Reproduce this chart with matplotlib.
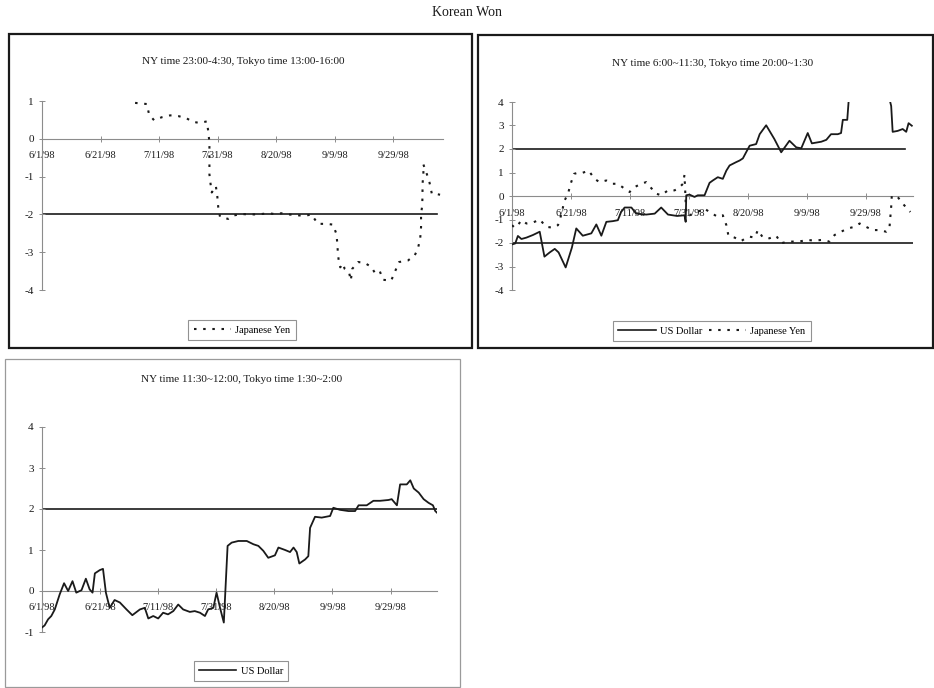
import matplotlib
matplotlib.use("Agg")
import matplotlib.pyplot as plt
from matplotlib.lines import Line2D
from matplotlib.patches import Rectangle

plt.rcParams['font.family'] = ['Liberation Serif', 'DejaVu Serif']
plt.rcParams['axes.unicode_minus'] = False

W, H = 934, 688

# x values are days counted from 6/1/98
date_ticks = [0, 20, 40, 60, 80, 100, 120]
date_labels = ['6/1/98', '6/21/98', '7/11/98', '7/31/98', '8/20/98', '9/9/98', '9/29/98']

# panel 1: NY 23:00-4:30 -- Japanese Yen
yen1_day = [31.8, 35.8, 36.6, 38.3, 40.9, 43.8, 46.6, 49.2, 51.5, 53.8, 56.3, 56.8, 57.2, 57.2,
            57.6, 58.0, 59.4, 59.9, 60.2, 60.8, 63.6, 65.3, 68.2, 70.5, 72.7, 75.0, 77.3, 79.5,
            81.8, 84.1, 86.9, 89.8, 92.0, 94.3, 97.2, 99.4, 100.6, 100.9, 101.1, 101.5, 101.9,
            102.8, 103.4, 104.9, 105.5, 106.0, 108.0, 110.2, 112.5, 113.6, 115.3, 116.5, 119.3,
            120.5, 122.0, 125.0, 127.3, 128.4, 129.2, 129.5, 129.5, 129.9, 130.0, 130.0, 130.3,
            130.3, 131.3, 132.4, 133.2, 134.7, 136.0]
yen1_val = [0.95, 0.92, 0.64, 0.49, 0.57, 0.62, 0.60, 0.55, 0.45, 0.42, 0.46, 0.20, -0.10, -0.94,
            -1.20, -1.42, -1.25, -1.53, -1.80, -2.06, -2.12, -2.03, -1.99, -2.00, -2.00, -1.99,
            -1.97, -1.99, -1.97, -2.00, -2.02, -2.04, -2.00, -2.25, -2.25, -2.27, -2.52, -2.78,
            -3.04, -3.30, -3.40, -3.30, -3.44, -3.53, -3.75, -3.44, -3.26, -3.28, -3.39, -3.53,
            -3.48, -3.73, -3.75, -3.53, -3.26, -3.22, -3.09, -2.91, -2.65, -2.34, -1.99, -1.77,
            -1.46, -1.20, -0.94, -0.68, -0.89, -1.16, -1.46, -1.46, -1.48]

# panel 2: NY 6:00~11:30 -- US Dollar and Japanese Yen
usd2_day = [0.0, 1.1, 2.0, 3.2, 4.9, 7.1, 9.4, 11.0, 12.8, 14.5, 15.8, 18.2, 20.3, 21.8, 24.0,
            26.9, 28.6, 30.3, 32.0, 34.2, 35.9, 37.0, 38.2, 40.5, 42.1, 45.5, 48.4, 50.6, 52.9,
            56.0, 58.5, 58.9, 59.1, 60.2, 61.9, 63.0, 65.3, 67.0, 68.1, 69.8, 71.5, 72.7, 73.8,
            76.0, 77.2, 78.3, 79.4, 80.6, 82.8, 84.0, 86.2, 89.0, 91.3, 94.1, 96.4, 98.1, 100.3,
            101.7, 104.9, 106.6, 108.2, 110.5, 111.6, 112.2, 113.7, 114.5, 120.0, 127.5, 128.6,
            129.1, 130.8, 132.5, 133.7, 134.5, 135.6]
usd2_val = [-2.06, -2.02, -1.70, -1.83, -1.77, -1.66, -1.52, -2.58, -2.40, -2.25, -2.40, -3.04,
            -2.20, -1.38, -1.69, -1.59, -1.21, -1.69, -1.10, -1.07, -1.03, -0.68, -0.49, -0.49,
            -0.75, -0.79, -0.75, -0.49, -0.79, -0.85, -0.82, -1.10, 0.03, 0.06, -0.04, 0.03,
            0.03, 0.56, 0.66, 0.80, 0.73, 1.08, 1.30, 1.44, 1.51, 1.60, 1.86, 2.14, 2.21, 2.63,
            3.01, 2.42, 1.86, 2.35, 2.07, 2.03, 2.68, 2.24, 2.31, 2.39, 2.63, 2.63, 2.68, 3.24,
            3.24, 4.60, 5.00, 4.40, 3.83, 2.73, 2.77, 2.85, 2.73, 3.10, 2.99]
yen2_day = [0.0, 0.9, 2.0, 3.2, 4.9, 7.1, 9.4, 11.6, 13.9, 15.6, 17.0, 17.6, 19.0, 19.9, 21.0,
            22.9, 24.0, 26.0, 28.0, 29.7, 32.0, 34.2, 35.9, 38.2, 39.9, 41.6, 43.8, 45.5, 47.2,
            48.9, 50.6, 52.9, 55.1, 56.3, 58.0, 58.5, 59.1, 60.2, 65.3, 67.0, 69.8, 71.5, 72.7,
            73.4, 75.5, 77.7, 78.8, 80.6, 82.3, 83.4, 85.1, 87.3, 89.6, 91.3, 93.6, 95.8, 98.1,
            100.3, 102.6, 104.9, 107.7, 109.4, 111.6, 113.9, 116.2, 117.9, 120.7, 122.4, 124.7,
            126.9, 128.0, 128.6, 128.8, 129.7, 130.8, 132.5, 134.2, 135.1]
yen2_val = [-1.24, -1.35, -1.24, -1.03, -1.17, -1.13, -1.00, -1.31, -1.35, -1.24, -0.68, -0.25,
            0.10, 0.52, 0.94, 1.01, 0.99, 1.08, 0.73, 0.59, 0.66, 0.52, 0.52, 0.31, 0.17, 0.38,
            0.52, 0.59, 0.34, 0.10, 0.03, 0.24, 0.24, 0.31, 0.52, 0.90, -0.80, -0.82, -0.54,
            -0.68, -0.89, -0.82, -1.24, -1.69, -1.77, -1.92, -1.83, -1.73, -1.77, -1.45, -1.77,
            -1.80, -1.69, -2.01, -1.94, -1.94, -1.92, -1.87, -1.90, -1.87, -1.94, -1.66, -1.52,
            -1.38, -1.31, -1.17, -1.35, -1.45, -1.45, -1.52, -1.38, -0.46, 0.00, 0.00, -0.04,
            -0.32, -0.56, -0.68]

# panel 3: NY 11:30~12:00 -- US Dollar
usd3_day = [0.0, 0.9, 2.1, 3.2, 4.4, 6.1, 7.6, 9.0, 10.5, 11.8, 13.6, 15.1, 16.4, 17.4, 18.2,
            19.9, 21.0, 22.0, 23.3, 25.0, 26.8, 29.1, 31.1, 33.7, 35.4, 36.6, 38.3, 40.0, 41.7,
            43.4, 45.2, 46.9, 48.6, 50.9, 52.6, 54.4, 56.1, 57.2, 59.0, 60.1, 61.3, 62.6, 63.9,
            65.3, 67.6, 70.5, 72.8, 74.5, 76.2, 77.9, 80.2, 81.4, 83.7, 85.4, 86.6, 87.7, 88.6,
            90.6, 91.7, 92.3, 94.0, 96.3, 99.2, 100.3, 102.6, 105.5, 107.8, 109.0, 111.8, 114.1,
            116.4, 119.3, 120.4, 122.2, 123.3, 125.6, 126.8, 128.0, 129.7, 131.4, 133.1, 134.6,
            135.4, 136.0]
usd3_val = [-0.89, -0.84, -0.69, -0.61, -0.45, -0.08, 0.19, 0.00, 0.24, -0.04, 0.02, 0.30, 0.04,
            -0.04, 0.43, 0.51, 0.54, -0.04, -0.41, -0.22, -0.28, -0.45, -0.59, -0.45, -0.41,
            -0.67, -0.61, -0.67, -0.53, -0.57, -0.49, -0.33, -0.45, -0.51, -0.49, -0.53, -0.61,
            -0.45, -0.41, -0.04, -0.41, -0.77, 1.10, 1.18, 1.22, 1.22, 1.14, 1.10, 0.98, 0.81,
            0.87, 1.06, 1.00, 0.95, 1.06, 0.95, 0.67, 0.77, 0.85, 1.54, 1.81, 1.79, 1.83, 2.03,
            1.98, 1.95, 1.95, 2.09, 2.09, 2.20, 2.20, 2.22, 2.24, 2.09, 2.60, 2.60, 2.70, 2.50,
            2.40, 2.24, 2.15, 2.09, 1.95, 1.91]

INK = '#1a1a1a'
AXC = '#8c8c8c'
DOT = (0, (1.2, 3.2))


def px_axes(x0, y_top, x1, y_bot):
    return fig.add_axes([x0 / W, 1 - y_bot / H, (x1 - x0) / W, (y_bot - y_top) / H])


def style(ax, xmax, ylo, yhi, levels):
    ax.set_xlim(0, xmax)
    ax.set_ylim(ylo, yhi)
    ax.patch.set_visible(False)
    for s in ['top', 'right']:
        ax.spines[s].set_visible(False)
    ax.spines['bottom'].set_position(('data', 0))
    ax.spines['bottom'].set_color(AXC)
    ax.spines['left'].set_color(AXC)
    ax.spines['bottom'].set_linewidth(0.8)
    ax.spines['left'].set_linewidth(0.8)
    ax.set_xticks(date_ticks)
    ax.set_xticklabels(date_labels)
    ax.set_yticks(range(ylo, yhi + 1))
    ax.tick_params(axis='x', direction='inout', length=4, width=0.7, color=AXC,
                   labelsize=7.5, pad=7, labelcolor=INK)
    ax.tick_params(axis='y', direction='inout', length=4, width=0.7, color=AXC,
                   labelsize=8, pad=4, labelcolor=INK)
    for lv, xm in levels:
        ax.axhline(lv, xmax=xm, color=INK, lw=1.2, zorder=1)


def frame(x0, y0, x1, y1, color, lw):
    fig.add_artist(Rectangle((x0 / W, 1 - y1 / H), (x1 - x0) / W, (y1 - y0) / H,
                             transform=fig.transFigure, fill=False, edgecolor=color, lw=lw))


def legend(ax, handles, cx, cy):
    lg = ax.legend(handles=handles, loc='center', bbox_to_anchor=(cx / W, 1 - cy / H),
                   bbox_transform=fig.transFigure, ncol=len(handles), fontsize=7.5,
                   frameon=True, fancybox=False, edgecolor='#777777', handlelength=3.6,
                   handletextpad=0.4, columnspacing=0.6, borderpad=0.5)
    lg.get_frame().set_linewidth(0.8)


fig = plt.figure(figsize=(W / 100, H / 100), dpi=100)
fig.text(467 / W, 1 - 13 / H, 'Korean Won', ha='center', va='center', fontsize=10, color=INK)

frame(9, 34, 472, 348, INK, 1.6)
frame(478, 35, 933, 348, INK, 1.6)
frame(5, 359, 460, 687, '#9a9a9a', 0.9)

# panel 1
ax1 = px_axes(42, 101, 443, 290)
style(ax1, 137, -4, 1, [(-2, 0.985)])
ax1.plot(yen1_day, yen1_val, color=INK, lw=1.5, linestyle=DOT, zorder=3)
fig.text(243 / W, 1 - 62 / H, 'NY time 23:00-4:30, Tokyo time 13:00-16:00',
         ha='center', va='center', fontsize=8, color=INK)
legend(ax1, [Line2D([], [], color=INK, lw=1.5, linestyle=DOT, label='Japanese Yen')], 242, 330)

# panel 2
ax2 = px_axes(512, 102, 913, 290)
style(ax2, 136, -4, 4, [(2, 0.98), (-2, 1.0)])
ax2.plot(usd2_day, usd2_val, color=INK, lw=1.3, zorder=3)
ax2.plot(yen2_day, yen2_val, color=INK, lw=1.5, linestyle=DOT, zorder=3)
fig.text(713 / W, 1 - 63 / H, 'NY time 6:00~11:30, Tokyo time 20:00~1:30',
         ha='center', va='center', fontsize=8, color=INK)
legend(ax2, [Line2D([], [], color=INK, lw=1.2, label='US Dollar'),
             Line2D([], [], color=INK, lw=1.5, linestyle=DOT, label='Japanese Yen')], 712, 331)

# panel 3
ax3 = px_axes(42, 427, 437, 632)
style(ax3, 136, -1, 4, [(2, 1.0)])
ax3.plot(usd3_day, usd3_val, color=INK, lw=1.3, zorder=3)
fig.text(242 / W, 1 - 380 / H, 'NY time 11:30~12:00, Tokyo time 1:30~2:00',
         ha='center', va='center', fontsize=8, color=INK)
legend(ax3, [Line2D([], [], color=INK, lw=1.2, label='US Dollar')], 241, 671)

fig.savefig('out.png', dpi=100)
